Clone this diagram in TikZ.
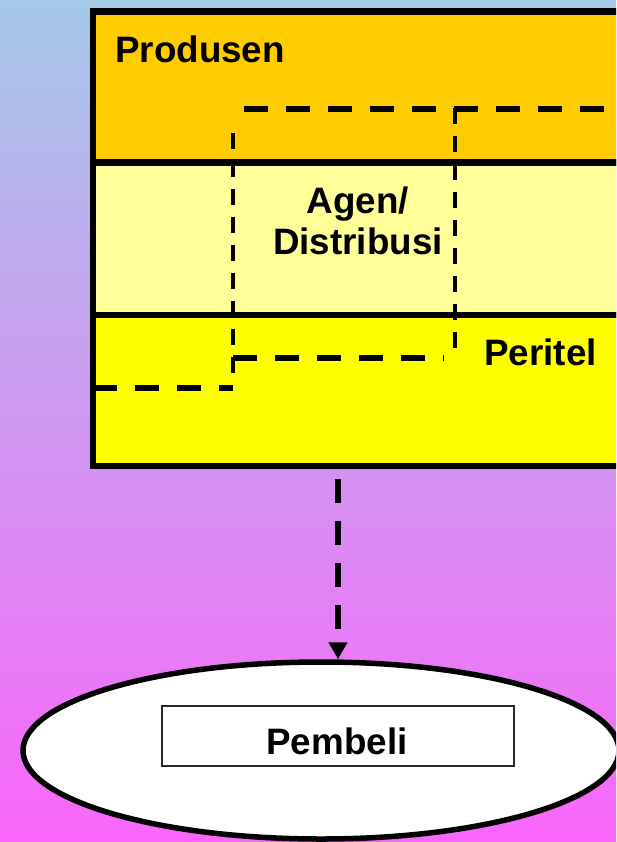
\documentclass[tikz,border=0pt]{standalone}
\usepackage{fontspec}
\setmainfont{Liberation Sans}
\usetikzlibrary{shapes.geometric,arrows.meta}
\definecolor{bgtop}{RGB}{165,201,232}
\definecolor{bgbot}{RGB}{250,102,250}
\definecolor{prodcol}{RGB}{255,204,0}
\definecolor{agencol}{RGB}{255,255,153}
\definecolor{retcol}{RGB}{255,255,0}
\begin{document}
\begin{tikzpicture}[x=1pt,y=-1pt,
  band/.style={draw=black, line width=6.5pt, minimum width=540pt, anchor=north west, inner sep=0pt, outer sep=0pt},
  lbl/.style={font=\bfseries\fontsize{36.8}{41}\selectfont, inner sep=0pt, text=black},
  hdash/.style={line width=6pt, dash pattern=on 24pt off 18pt},
  vdash/.style={line width=4.3pt, dash pattern=on 16pt off 12pt},
]
\useasboundingbox (0,0) rectangle (616,842);
\shade[top color=bgtop, bottom color=bgbot] (0,0) rectangle (616,842);
\begin{scope}
\clip (0,0) rectangle (616,842);
% bands
\node[band, fill=prodcol, minimum height=151pt] (produsen) at (93,11.5) {};
\node[band, fill=agencol, minimum height=152.5pt] (agen) at (93,162.5) {};
\node[band, fill=retcol, minimum height=151pt] (peritel) at (93,315) {};
% dashed boundaries
\coordinate (h1a) at (244,109); \coordinate (h1b) at (630,109);
\coordinate (vra) at (455,108); \coordinate (vrb) at (455,349);
\coordinate (vla) at (233,132.7); \coordinate (vlb) at (233,373);
\coordinate (hma) at (233,358); \coordinate (hmb) at (444,358);
\coordinate (hla) at (93,388); \coordinate (hlb) at (233,388);
\draw[hdash] (h1a) -- (h1b);
\draw[vdash] (vra) -- (vrb);
\draw[vdash] (vla) -- (vlb);
\draw[hdash] (hma) -- (hmb);
\draw[hdash] (hla) -- (hlb);
% labels
\node[lbl, anchor=base west] (tprod) at (115,62.3) {Produsen};
\node[lbl, anchor=base] (tagen) at (358,214) {\begin{tabular}[t]{@{}c@{}}Agen/\\Distribusi\end{tabular}};
\node[lbl, anchor=base west] (tret) at (484,365) {Peritel};
% buyer
\node[ellipse, draw=black, line width=5.5pt, fill=white, minimum width=596pt, minimum height=177pt, inner sep=0pt] (buyer) at (321,750.5) {};
\node[draw=black!85, line width=1.5pt, fill=white, minimum width=352pt, minimum height=60pt, inner sep=0pt] (pbox) at (338,736) {};
\node[lbl, anchor=base] (tpemb) at (337,754.3) {Pembeli};
% arrow
\coordinate (arrstart) at (338,479);
\draw[line width=6.7pt, dash pattern=on 24pt off 18pt, -{Triangle[width=18pt,length=17pt]}] (arrstart) -- (arrstart |- buyer.north);
\end{scope}
\end{tikzpicture}
\end{document}
